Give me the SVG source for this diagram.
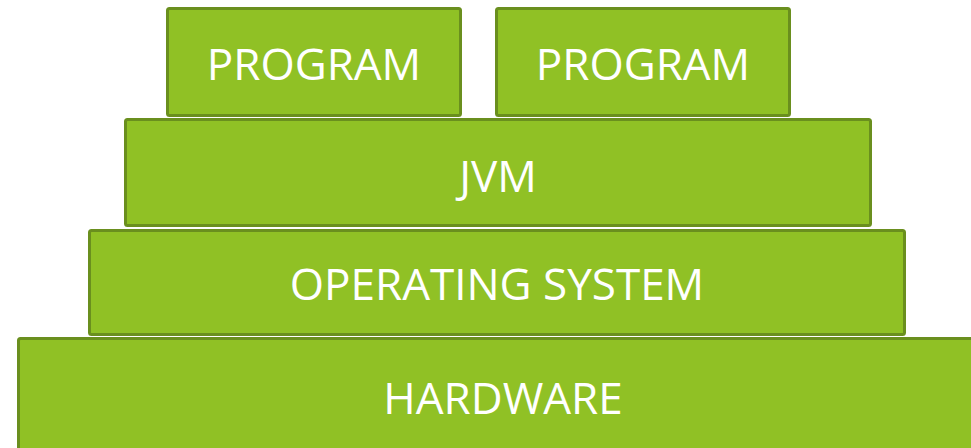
<svg xmlns="http://www.w3.org/2000/svg" width="971" height="448" viewBox="0 0 971 448">
  <style>
    .layer rect { fill: #90c125; stroke: #6a8f1e; stroke-width: 3; }
    .layer text { fill: #ffffff; font-family: "Open Sans", "Liberation Sans", sans-serif; font-size: 44px; text-anchor: middle; }
  </style>
  <rect width="971" height="448" fill="#ffffff"/>
  <g id="program-1" class="layer">
    <rect x="167.5" y="8.5" width="293" height="107" rx="2"/>
    <text x="314" y="80">PROGRAM</text>
  </g>
  <g id="program-2" class="layer">
    <rect x="496.5" y="8.5" width="293" height="107" rx="2"/>
    <text x="643" y="80">PROGRAM</text>
  </g>
  <g id="jvm" class="layer">
    <rect x="125.5" y="119.5" width="745" height="106" rx="2"/>
    <text x="498" y="192">JVM</text>
  </g>
  <g id="operating-system" class="layer">
    <rect x="89.5" y="230.5" width="815" height="104" rx="2"/>
    <text x="497" y="300">OPERATING SYSTEM</text>
  </g>
  <g id="hardware" class="layer">
    <rect x="18.5" y="338.5" width="970" height="120" rx="2"/>
    <text x="503" y="414">HARDWARE</text>
  </g>
</svg>
